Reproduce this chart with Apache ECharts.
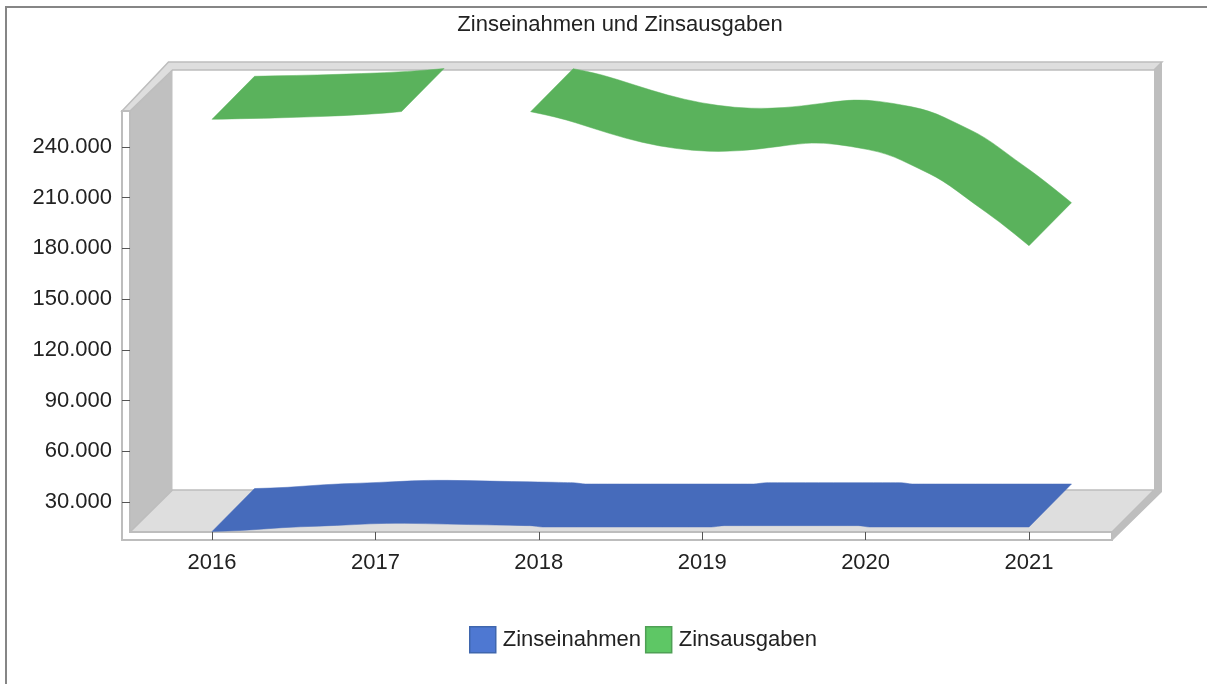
<!DOCTYPE html>
<html>
<head>
<meta charset="utf-8">
<style>
  html, body { margin: 0; padding: 0; background: #fff; }
  #chart { width: 1207px; height: 684px; }
</style>
<script src="https://cdn.jsdelivr.net/npm/echarts@6/dist/echarts.min.js"></script>
</head>
<body>
<div id="chart"></div>
<script>
var tickYears = [2016, 2017, 2018, 2019, 2020, 2021];
var tickValues = [30000, 60000, 90000, 120000, 150000, 180000, 210000, 240000];

var blueYears = [2016, 2016.2, 2016.43, 2016.65, 2016.875, 2017.06, 2017.3, 2017.58, 2017.79, 2017.93, 2017.96, 2018.01, 2018.04, 2019.04, 2019.07, 2019.12, 2019.15, 2019.94, 2019.97, 2020.01, 2020.04, 2021];
var blueValues = [12500, 13100, 14900, 15700, 16600, 17500, 17200, 16600, 16300, 16000, 16000, 15200, 15200, 15200, 15200, 16000, 16000, 16000, 16000, 15200, 15200, 15200];

// null: the ribbon leaves the top of the chart there
var greenYears = [2016, 2016.26, 2016.51, 2016.8, 2017.07, 2017.16, 2017.5, 2017.95, 2018.12, 2018.33, 2018.53, 2018.73, 2018.94, 2019.14, 2019.34, 2019.6, 2019.74, 2019.9, 2020.13, 2020.31, 2020.47, 2020.66, 2020.82, 2021];
var greenValues = [256400, 256900, 257500, 258500, 260100, 261000, null, 260900, 257600, 251100, 245100, 240600, 237800, 237200, 238600, 242100, 242500, 240600, 236300, 228000, 220500, 206700, 195800, 181600];

var DEPTH_X = 42.5;
var DEPTH_Y = 43;
var STRIP = 8;
var FONT = 'Liberation Sans';
var TEXT_SIZE = 22;
var TEXT_COLOR = '#222';

var chart = echarts.init(document.getElementById('chart'));

function poly(points, fill, stroke, width) {
  return {
    type: 'polygon',
    shape: { points: points },
    style: { fill: fill, stroke: stroke || null, lineWidth: width || 0 }
  };
}

// walls, floor and the strips around the plot
function renderFrame(params) {
  var c = params.coordSys;
  var L = c.x, T = c.y, R = c.x + c.width, B = c.y + c.height;
  var iL = L + STRIP, iB = B - STRIP;
  var bL = iL + DEPTH_X, bR = R + DEPTH_X - 0.5, bB = iB - DEPTH_Y + 1, bT = T - DEPTH_Y + 2;
  var oT = T - DEPTH_Y - 6;
  var line = '#bdbdbd';
  return {
    type: 'group',
    children: [
      poly([[iL, T], [bL, bT], [bL, bB], [iL, iB]], '#c0c0c0'),
      poly([[iL, iB], [bL, bB], [bR, bB], [R, iB]], '#dedede', line, 1.5),
      poly([[L, T], [bL - 4, oT], [bR + 8, oT], [bR, bT], [bL, bT], [iL, T]], '#dedede', line, 1.5),
      poly([[bR, bT], [bR + 8, oT], [bR + 8, bB + 2], [R + 1, B], [R, iB], [bR, bB]], '#bebebe'),
      poly([[L, T], [iL, T], [iL, iB], [R, iB], [R, B], [L, B]], '#fff', line, 2)
    ]
  };
}

// rounds the corners of an edge through the midpoints of its segments
function edgePath(points, start) {
  var d = (start ? 'M' : 'L') + points[0][0] + ' ' + points[0][1];
  for (var i = 1; i < points.length - 1; i++) {
    var mx = (points[i][0] + points[i + 1][0]) / 2;
    var my = (points[i][1] + points[i + 1][1]) / 2;
    d += 'Q' + points[i][0] + ' ' + points[i][1] + ' ' + mx + ' ' + my;
  }
  var last = points[points.length - 1];
  return d + 'L' + last[0] + ' ' + last[1];
}

// one shape per run of values: front edge, then the same edge pushed to the back
function ribbonRenderer(years, values, color) {
  return function (params, api) {
    if (params.dataIndex !== 0) return null;
    var children = [];
    var run = [];
    function flush() {
      if (run.length > 1) {
        var back = run.map(function (p) { return [p[0] + DEPTH_X, p[1] - DEPTH_Y]; }).reverse();
        children.push({
          type: 'path',
          shape: { pathData: edgePath(run, true) + edgePath(back, false) + 'Z' },
          style: { fill: color, stroke: color, lineWidth: 0.5 }
        });
      }
      run = [];
    }
    for (var i = 0; i < years.length; i++) {
      if (values[i] == null) flush();
      else run.push(api.coord([years[i], values[i]]));
    }
    flush();
    return { type: 'group', children: children };
  };
}

function pairs(years, values) {
  return years.map(function (y, i) { return [y, values[i]]; });
}

chart.setOption({
  animation: false,
  title: {
    text: 'Zinseinahmen und Zinsausgaben',
    left: 615,
    top: 9,
    textAlign: 'center',
    textStyle: { fontFamily: FONT, fontSize: TEXT_SIZE, fontWeight: 'normal', color: TEXT_COLOR }
  },
  grid: { left: 122, top: 111, width: 990, height: 429 },
  xAxis: {
    type: 'value',
    min: 2015.449,
    max: 2021.508,
    z: 5,
    splitLine: { show: false },
    axisLine: { show: false },
    axisTick: { show: true, inside: true, length: 8, customValues: tickYears, lineStyle: { color: '#555' } },
    axisLabel: {
      customValues: tickYears,
      margin: 12,
      fontFamily: FONT,
      fontSize: TEXT_SIZE,
      color: TEXT_COLOR,
      formatter: function (v) { return String(v); }
    }
  },
  yAxis: {
    type: 'value',
    min: 7500,
    max: 261300,
    z: 5,
    splitLine: { show: false },
    axisLine: { show: false },
    axisTick: { show: true, inside: true, length: 8, customValues: tickValues, lineStyle: { color: '#555' } },
    axisLabel: {
      customValues: tickValues,
      margin: 10,
      fontFamily: FONT,
      fontSize: TEXT_SIZE,
      color: TEXT_COLOR,
      formatter: function (v) { return (v / 1000) + '.000'; }
    }
  },
  legend: {
    left: 469,
    top: 626,
    padding: 0,
    itemWidth: 26,
    itemHeight: 26,
    itemGap: 4,
    icon: 'rect',
    textStyle: { fontFamily: FONT, fontSize: TEXT_SIZE, color: TEXT_COLOR, padding: [0, 0, 0, 2] },
    data: [
      { name: 'Zinseinahmen', itemStyle: { color: '#4e78d2', borderColor: '#3f66ad', borderWidth: 1.5 } },
      { name: 'Zinsausgaben', itemStyle: { color: '#5ec765', borderColor: '#4fa055', borderWidth: 1.5 } }
    ]
  },
  graphic: [
    { type: 'line', shape: { x1: 6, y1: 7, x2: 1207, y2: 7 }, style: { stroke: '#868686', lineWidth: 2 } },
    { type: 'line', shape: { x1: 6, y1: 6, x2: 6, y2: 684 }, style: { stroke: '#868686', lineWidth: 2 } }
  ],
  series: [
    {
      type: 'custom',
      silent: true,
      z: 1,
      data: [[2016, 30000]],
      renderItem: renderFrame
    },
    {
      name: 'Zinseinahmen',
      type: 'custom',
      z: 2,
      itemStyle: { color: '#466bbb' },
      data: pairs(blueYears, blueValues),
      renderItem: ribbonRenderer(blueYears, blueValues, '#466bbb')
    },
    {
      name: 'Zinsausgaben',
      type: 'custom',
      z: 2,
      itemStyle: { color: '#5ab25c' },
      data: pairs(greenYears, greenValues),
      renderItem: ribbonRenderer(greenYears, greenValues, '#5ab25c')
    }
  ]
});
</script>
</body>
</html>
